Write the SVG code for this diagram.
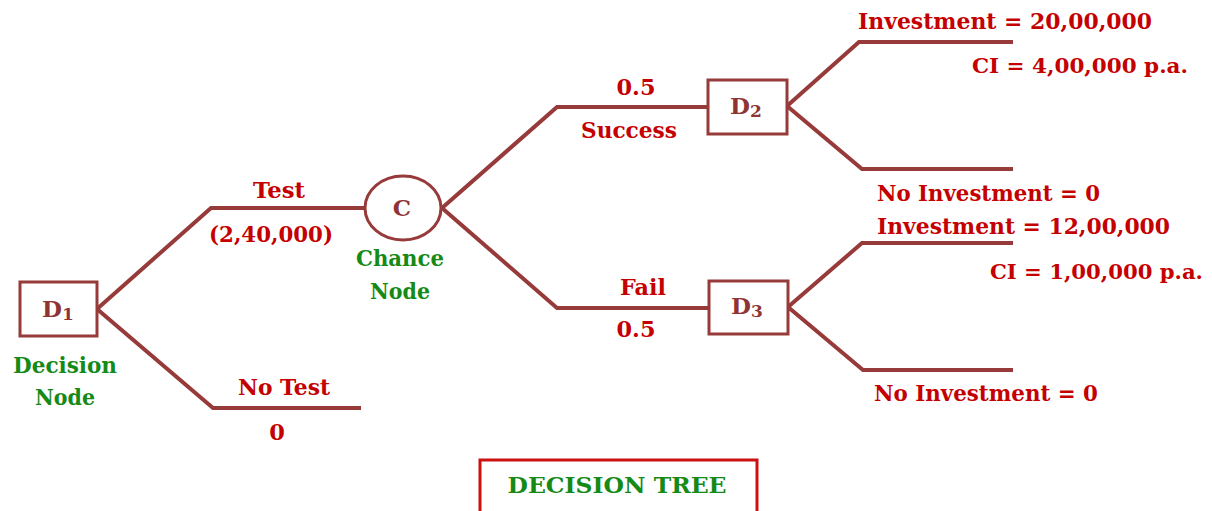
<svg xmlns="http://www.w3.org/2000/svg" width="1212" height="511" viewBox="0 0 1212 511">
<style>
text{font-family:"DejaVu Serif","Liberation Serif",serif;font-weight:bold;font-size:22.5px}
.r{fill:#c40000}
.g{fill:#168a16}
.n{fill:#8e3434;font-size:23px}
.sub{font-size:17px}
.c{text-anchor:middle}
.ci{font-size:20.5px}
.edge{fill:none;stroke:#973a3a;stroke-width:4;stroke-linejoin:miter}
.box{fill:#fff;stroke:#973a3a;stroke-width:3}
</style>
<rect width="1212" height="511" fill="#fff"/>
<g id="connectors">
<polyline class="edge" points="97,309 211,208 364,208"/>
<polyline class="edge" points="97,309 213,408 361,408"/>
<polyline class="edge" points="442,208 557,107 708,107"/>
<polyline class="edge" points="442,208 557,308 710,308"/>
<polyline class="edge" points="787,106 859,42 1013,42"/>
<polyline class="edge" points="787,106 862,169 1013,169"/>
<polyline class="edge" points="788,307 862,243 1013,243"/>
<polyline class="edge" points="788,307 863,370 1013,370"/>
</g>
<g id="D1">
<rect class="box" x="20" y="282" width="77" height="54"/>
<text class="n" x="42" y="317">D<tspan class="sub" dy="3">1</tspan></text>
<text class="g c" x="65" y="373" textLength="104" lengthAdjust="spacingAndGlyphs">Decision</text>
<text class="g c" x="65" y="405" textLength="60" lengthAdjust="spacingAndGlyphs">Node</text>
</g>
<g id="C">
<ellipse class="box" cx="403" cy="208" rx="38" ry="32"/>
<text class="n c" x="402" y="216">C</text>
<text class="g c" x="400" y="266" textLength="88" lengthAdjust="spacingAndGlyphs">Chance</text>
<text class="g c" x="400" y="299" textLength="60" lengthAdjust="spacingAndGlyphs">Node</text>
</g>
<g id="D2">
<rect class="box" x="708" y="80" width="79" height="54"/>
<text class="n" x="730" y="114">D<tspan class="sub" dy="3">2</tspan></text>
</g>
<g id="D3">
<rect class="box" x="709" y="281" width="79" height="53"/>
<text class="n" x="731" y="314">D<tspan class="sub" dy="3">3</tspan></text>
</g>
<g id="labels">
<text class="r c" x="279" y="198" textLength="52" lengthAdjust="spacingAndGlyphs">Test</text>
<text class="r c" x="271" y="242" textLength="124" lengthAdjust="spacingAndGlyphs">(2,40,000)</text>
<text class="r c" x="284" y="395" textLength="92" lengthAdjust="spacingAndGlyphs">No Test</text>
<text class="r c" x="277" y="440">0</text>
<text class="r c" x="636" y="95" textLength="39" lengthAdjust="spacingAndGlyphs">0.5</text>
<text class="r c" x="629" y="138" textLength="96" lengthAdjust="spacingAndGlyphs">Success</text>
<text class="r c" x="643" y="295" textLength="46" lengthAdjust="spacingAndGlyphs">Fail</text>
<text class="r c" x="636" y="337" textLength="39" lengthAdjust="spacingAndGlyphs">0.5</text>
<text class="r" x="858" y="29" textLength="294" lengthAdjust="spacingAndGlyphs">Investment = 20,00,000</text>
<text class="r ci" x="972" y="73" textLength="216" lengthAdjust="spacingAndGlyphs">CI = 4,00,000 p.a.</text>
<text class="r" x="877" y="201" textLength="223" lengthAdjust="spacingAndGlyphs">No Investment = 0</text>
<text class="r" x="877" y="234" textLength="293" lengthAdjust="spacingAndGlyphs">Investment = 12,00,000</text>
<text class="r ci" x="990" y="279" textLength="213" lengthAdjust="spacingAndGlyphs">CI = 1,00,000 p.a.</text>
<text class="r" x="874" y="401" textLength="224" lengthAdjust="spacingAndGlyphs">No Investment = 0</text>
</g>
<g id="title">
<rect x="480" y="460" width="277" height="60" fill="#fff" stroke="#cc1111" stroke-width="3"/>
<text class="g c" x="617" y="493" textLength="219" lengthAdjust="spacingAndGlyphs">DECISION TREE</text>
</g>
</svg>
